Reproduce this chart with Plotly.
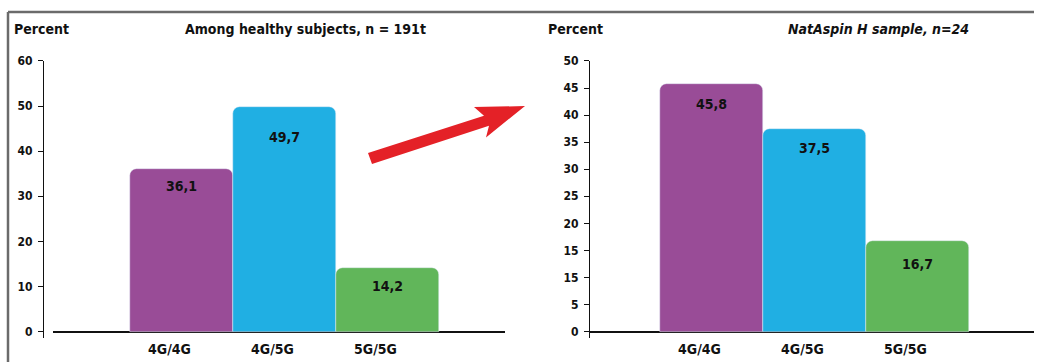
import plotly.graph_objects as go

W, H = 1042, 362

categories = ["4G/4G", "4G/5G", "5G/5G"]
healthy_values = [36.1, 49.7, 14.2]
natasp_values = [45.8, 37.5, 16.7]
colors = ["#994C97", "#20AFE3", "#61B65A"]

left_ticks = [0, 10, 20, 30, 40, 50, 60]
left_ticktext = ["0", "10", "20", "30", "40", "50", "60"]
right_ticks = [0, 5, 10, 15, 20, 25, 30, 35, 40, 45, 50]
right_ticktext = ["0", "5", "15", "15", "20", "25", "30", "35", "40", "45", "50"]

left_title = "<b>Among healthy subjects, n = 191t</b>"
right_title = "<b><i>NatAspin H sample, n=24</i></b>"

FONT = "DejaVu Sans Condensed, Liberation Sans Narrow, Arial Narrow, sans-serif"

def px(x):
    return x / W

def py(y):
    return 1 - y / H

def fmt(v):
    return f"{v:.1f}".replace(".", ",")

fig = go.Figure()
fig.add_trace(go.Bar(x=categories, y=healthy_values, marker=dict(color=colors, cornerradius=7),
                     width=1, xaxis="x", yaxis="y", showlegend=False, hoverinfo="skip"))
fig.add_trace(go.Bar(x=categories, y=natasp_values, marker=dict(color=colors, cornerradius=7),
                     width=1, xaxis="x2", yaxis="y2", showlegend=False, hoverinfo="skip"))

# value labels
left_dy = [-17, -30, -18]
right_dy = [-20, -19, -23]
annotations = []
vfont = dict(size=14, color="#111", family=FONT, weight="bold")
for c, v, d in zip(categories, healthy_values, left_dy):
    annotations.append(dict(x=c, y=v, xref="x", yref="y", yshift=d, text=fmt(v),
                            showarrow=False, font=vfont))
for c, v, d in zip(categories, natasp_values, right_dy):
    annotations.append(dict(x=c, y=v, xref="x2", yref="y2", yshift=d, text=fmt(v),
                            showarrow=False, font=vfont))

# titles
title_font = dict(size=14, color="#111", family=FONT)
annotations += [
    dict(x=px(12), y=py(22), xref="paper", yref="paper", xanchor="left", yanchor="middle",
         text="<b>Percent</b>", showarrow=False, font=title_font),
    dict(x=px(305), y=py(22), xref="paper", yref="paper", xanchor="center", yanchor="middle",
         text=left_title, showarrow=False, font=title_font),
    dict(x=px(546), y=py(22), xref="paper", yref="paper", xanchor="left", yanchor="middle",
         text="<b>Percent</b>", showarrow=False, font=title_font),
    dict(x=px(878), y=py(22), xref="paper", yref="paper", xanchor="center", yanchor="middle",
         text=right_title, showarrow=False, font=title_font),
]

# arrow shape (pixel coords converted to paper)
arrow_pts = [(368, 149), (484, 111), (474, 102), (525, 101), (486, 133), (489, 121), (372, 160)]
path = "M " + " L ".join(f"{px(x):.5f},{py(y):.5f}" for x, y in arrow_pts) + " Z"
shapes = [
    dict(type="path", path=path, xref="paper", yref="paper", fillcolor="#E42127", line=dict(width=0)),
    dict(type="line", xref="paper", yref="paper", x0=px(8), x1=px(1034), y0=py(5), y1=py(5),
         line=dict(color="#6b6b6b", width=2.5)),
    dict(type="line", xref="paper", yref="paper", x0=px(8), x1=px(8), y0=py(5), y1=0,
         line=dict(color="#6b6b6b", width=2.5)),
]

ydom = [py(338), py(55)]
tickfont = dict(size=12, color="#111", family=FONT, weight="bold")
xtickfont = dict(size=14, color="#111", family=FONT, weight="bold")

def yaxis(rng_top, ticks, ticktext, pos):
    unit = 276 / rng_top
    return dict(domain=ydom, range=[-7 / unit, rng_top], tickvals=ticks, ticktext=ticktext,
                showline=True, linecolor="#111", linewidth=1.2, ticks="outside", ticklen=5,
                tickcolor="#111", tickwidth=1.2, tickfont=tickfont, showgrid=False,
                zeroline=True, zerolinecolor="#111", zerolinewidth=1.5,
                ticklabelstandoff=3, anchor="free", position=pos, fixedrange=True)

def xaxis(x0, x1, first_center, anchor):
    span = (x1 - x0) / 103
    off = (first_center - x0) / 103
    return dict(domain=[px(x0), px(x1)], range=[-off, span - off], showline=False, ticks="",
                showgrid=False, zeroline=False, tickfont=xtickfont, anchor=anchor,
                ticklabelshift=-12, ticklabelstandoff=1, fixedrange=True)

fig.update_layout(
    width=W, height=H, margin=dict(l=0, r=0, t=0, b=0),
    paper_bgcolor="white", plot_bgcolor="rgba(0,0,0,0)",
    bargap=0, font=dict(family=FONT),
    xaxis=xaxis(53, 505, 181.5, "y"),
    yaxis=yaxis(60, left_ticks, left_ticktext, px(43)),
    xaxis2=xaxis(589, 1034, 711.5, "y2"),
    yaxis2=yaxis(50, right_ticks, right_ticktext, px(589)),
    annotations=annotations, shapes=shapes,
)

fig.write_html("out.html")
